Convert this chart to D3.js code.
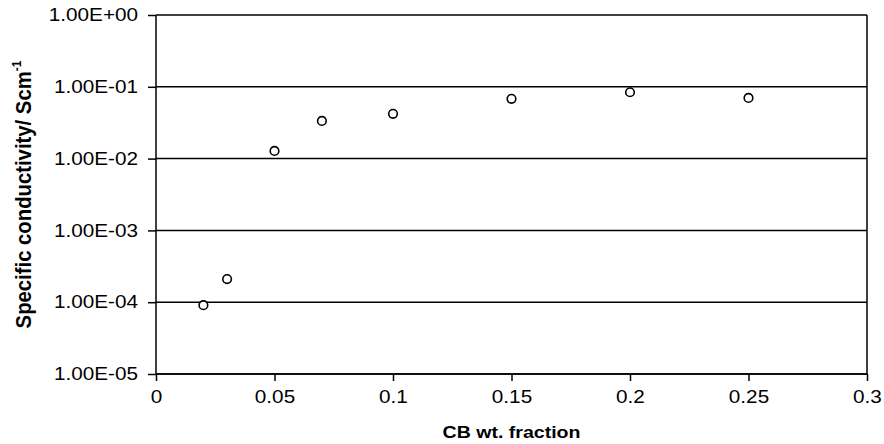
<!DOCTYPE html>
<html>
<head>
<meta charset="utf-8">
<script src="https://cdn.jsdelivr.net/npm/d3@7"></script>
<style>
  html, body { margin: 0; padding: 0; background: #fff; }
  svg { display: block; font-family: "Liberation Sans", Arial, Helvetica, sans-serif; }
</style>
</head>
<body>
<svg id="chart" width="884" height="444"></svg>
<script>
const cbFraction = [0.02, 0.03, 0.05, 0.07, 0.10, 0.15, 0.20, 0.25];
const conductivity = [9.1e-5, 2.1e-4, 1.28e-2, 3.35e-2, 4.2e-2, 6.8e-2, 8.4e-2, 7.0e-2];
const xTicks = [0, 0.05, 0.1, 0.15, 0.2, 0.25, 0.3];
const yTicks = [1e-5, 1e-4, 1e-3, 1e-2, 1e-1, 1e0];
const yTickLabels = ["1.00E-05", "1.00E-04", "1.00E-03", "1.00E-02", "1.00E-01", "1.00E+00"];
const xTitle = "CB wt. fraction";
const yTitle = "Specific conductivity/ Scm";

const svg = d3.select("#chart");
const m = { left: 156, right: 867, top: 15, bottom: 374 };
const stretch = 1.15;

const x = d3.scaleLinear().domain([0, 0.3]).range([m.left, m.right]);
const y = d3.scaleLog().domain([1e-5, 1]).range([m.bottom, m.top]);

function widen(sel) {
  sel.each(function() {
    const w = this.getComputedTextLength();
    d3.select(this).attr("textLength", w * stretch).attr("lengthAdjust", "spacingAndGlyphs");
  });
}

// gridlines
svg.append("g").selectAll("line").data(yTicks).join("line")
  .attr("x1", m.left).attr("x2", m.right)
  .attr("y1", d => y(d)).attr("y2", d => y(d))
  .attr("stroke", "#000").attr("stroke-width", 1.5);

// right border
svg.append("line").attr("x1", m.right).attr("x2", m.right)
  .attr("y1", m.top).attr("y2", m.bottom)
  .attr("stroke", "#000").attr("stroke-width", 1.5);

// y axis
const yAxis = d3.axisLeft(y).tickValues(yTicks)
  .tickFormat((d, i) => yTickLabels[i]).tickSize(8).tickPadding(10);
const gy = svg.append("g").attr("transform", `translate(${m.left},0)`).call(yAxis);
gy.select(".domain").attr("stroke-width", 1.5).attr("d", `M-0,${m.top}V${m.bottom}`);
gy.selectAll(".tick line").attr("stroke-width", 1.5);
gy.selectAll(".tick text").attr("font-size", 18).attr("fill", "#000")
  .attr("font-family", "Liberation Sans, Arial, sans-serif").call(widen);

// x axis
const xAxis = d3.axisBottom(x).tickValues(xTicks)
  .tickFormat(d3.format("~g")).tickSize(7).tickPadding(9);
const gx = svg.append("g").attr("transform", `translate(0,${m.bottom})`).call(xAxis);
gx.select(".domain").attr("stroke-width", 1.5).attr("d", `M${m.left},0H${m.right}`);
gx.selectAll(".tick line").attr("stroke-width", 1.5);
gx.selectAll(".tick text").attr("font-size", 18).attr("fill", "#000")
  .attr("font-family", "Liberation Sans, Arial, sans-serif").call(widen);

// points
svg.append("g").selectAll("circle").data(cbFraction).join("circle")
  .attr("cx", d => x(d))
  .attr("cy", (d, i) => y(conductivity[i]))
  .attr("r", 4.3)
  .attr("fill", "#fff").attr("stroke", "#000").attr("stroke-width", 1.6);

// x title
svg.append("text")
  .attr("x", (m.left + m.right) / 2).attr("y", 438)
  .attr("text-anchor", "middle").attr("font-weight", "bold").attr("font-size", 17)
  .text(xTitle).call(widen);

// y title
const yt = svg.append("text")
  .attr("transform", `translate(31,${(m.top + m.bottom) / 2}) rotate(-90) scale(1,1.12)`)
  .attr("text-anchor", "middle").attr("font-weight", "bold").attr("font-size", 20.3);
yt.append("tspan").text(yTitle);
yt.append("tspan").attr("dy", -9).attr("font-size", 12).text("-1");
</script>
</body>
</html>
